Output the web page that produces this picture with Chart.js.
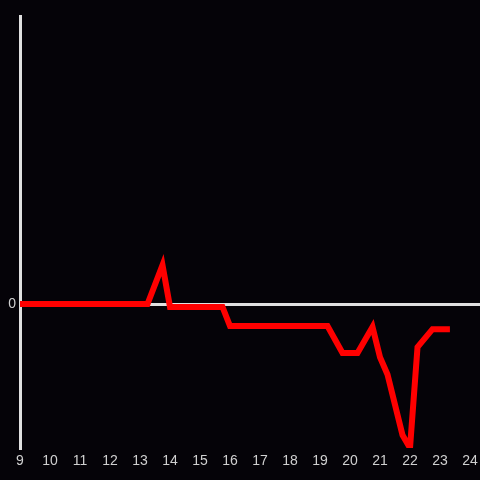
<!DOCTYPE html>
<html>
<head>
<meta charset="utf-8">
<script src="https://cdn.jsdelivr.net/npm/chart.js@4/dist/chart.umd.min.js"></script>
<style>
    html, body { margin: 0; padding: 0; background: #050308; }
    #wrap { width: 480px; height: 480px; }
</style>
</head>
<body>
<div id="wrap"><canvas id="chart_canvas"></canvas></div>
<script>
// hours of the day and values
const hours = [9, 13.25, 13.75, 14, 15.75, 16, 19.25, 19.75, 20.25, 20.75, 21, 21.25, 21.75, 22, 22.25, 22.75, 23.33]
const values = [0, 0, 0.27, -0.02, -0.02, -0.153, -0.153, -0.34, -0.34, -0.16, -0.37, -0.49, -0.91, -1.0, -0.30, -0.175, -0.175]
const xTickLabels = [9, 10, 11, 12, 13, 14, 15, 16, 17, 18, 19, 20, 21, 22, 23, 24]
const yTickLabels = [0]

const ctx = document.getElementById("chart_canvas").getContext('2d');

const points = hours.map((h, i) => ({ x: h, y: values[i] }))

const config = {
    type: 'line',
    data: {
        datasets: [{ data: points, borderColor: '#ff0000', borderWidth: 6, pointRadius: 0, tension: 0 }]
    },
    options: {
        responsive: true,
        maintainAspectRatio: false,
        animation: false,
        layout: { padding: { top: 16, right: 0, left: 0, bottom: 0 } },
        plugins: { legend: { display: false }, tooltip: { enabled: false } },
        scales: {
            x: {
                type: 'linear', min: 9, max: 24.333,
                grid: { display: false, drawTicks: false },
                border: { display: false },
                afterBuildTicks: (axis) => { axis.ticks = xTickLabels.map(v => ({ value: v })) },
                afterFit: (axis) => {
                    axis.height = 32
                    axis.paddingLeft = 0
                    axis.paddingRight = 0
                },
                ticks: {
                    color: '#d0d0d0', padding: 5, maxRotation: 0, autoSkip: false,
                    font: { family: 'Liberation Sans', size: 14 }
                }
            },
            y: {
                type: 'linear', min: -1, max: 2,
                grid: {
                    drawTicks: false,
                    color: (c) => c.tick && c.tick.value === 0 ? '#e0e0e0' : 'rgba(0,0,0,0)',
                    lineWidth: 3
                },
                border: { display: true, color: '#e0e0e0', width: 3 },
                afterBuildTicks: (axis) => { axis.ticks = yTickLabels.map(v => ({ value: v })) },
                afterFit: (axis) => { axis.width = 20 },
                ticks: {
                    color: '#d0d0d0', padding: 4,
                    font: { family: 'Liberation Sans', size: 14 }
                }
            }
        }
    }
};

const chart = new Chart(ctx, config);
</script>
</body>
</html>
